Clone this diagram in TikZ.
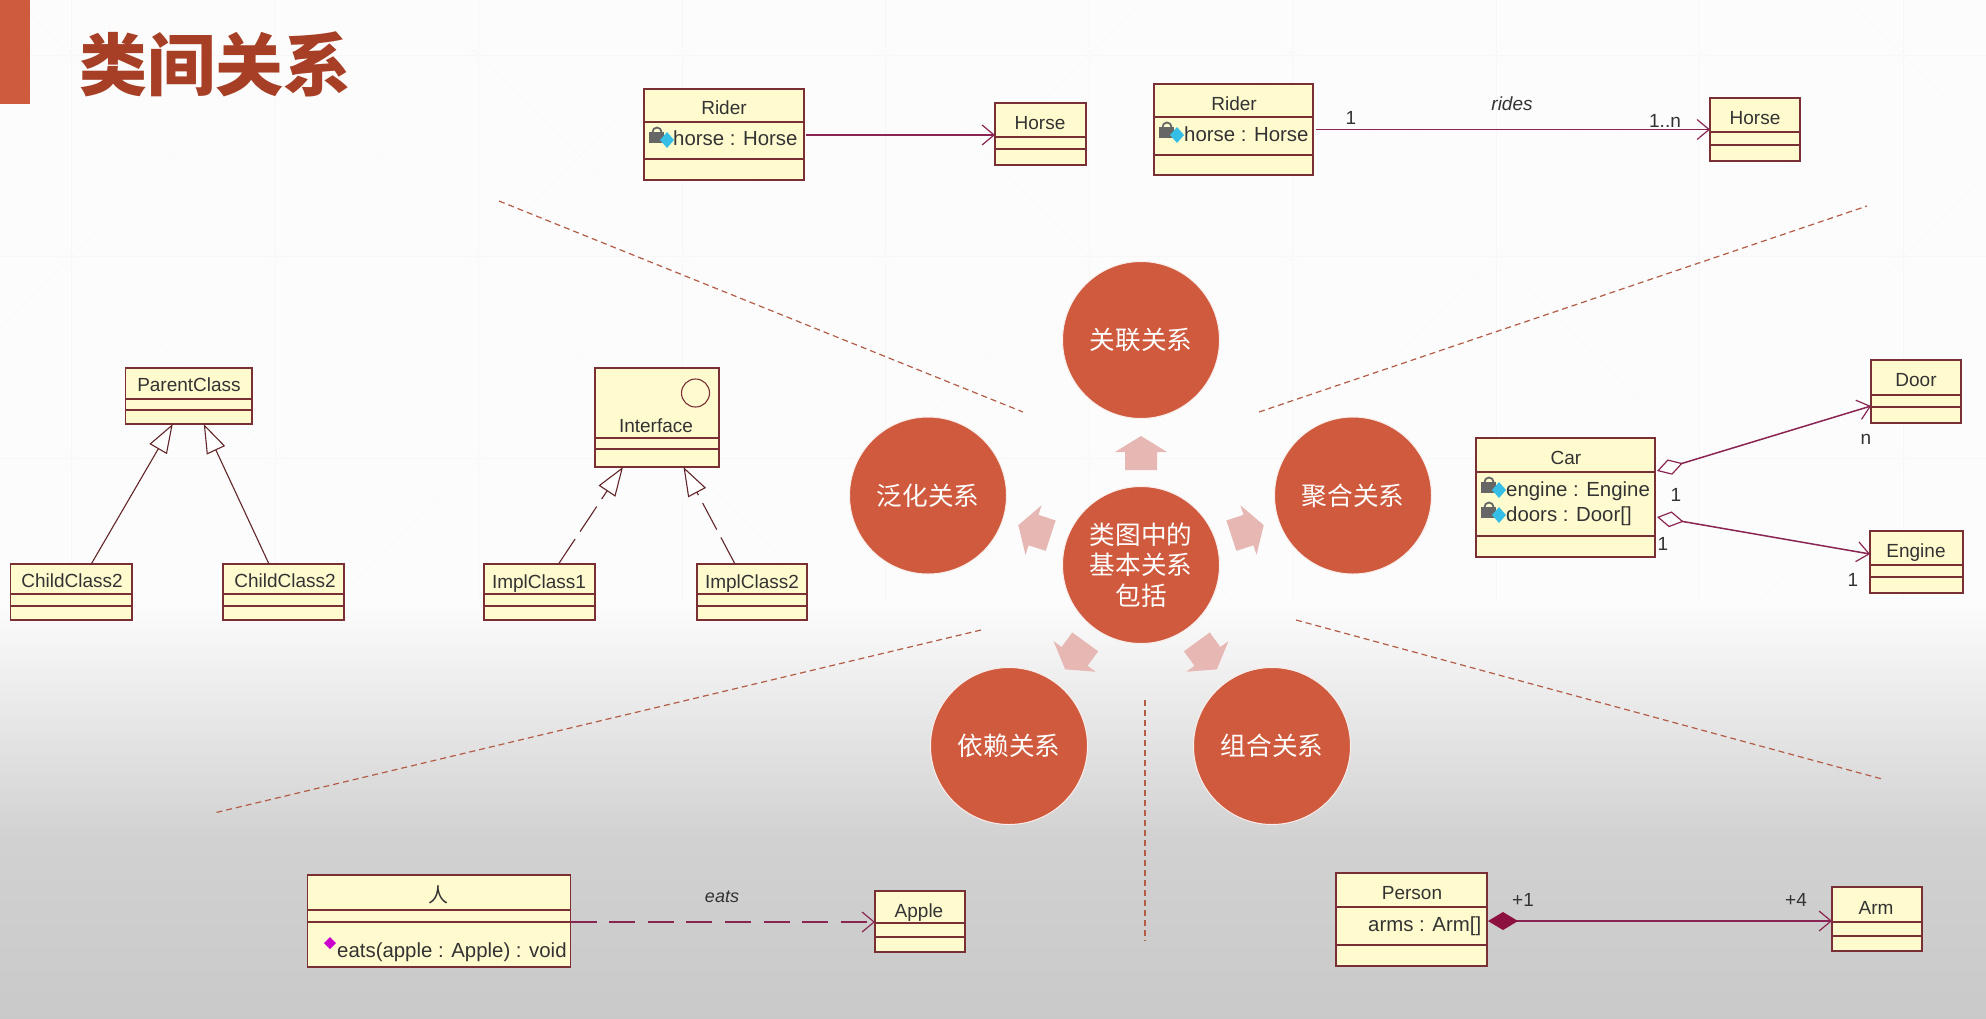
\documentclass[tikz,border=0pt]{standalone}
\usepackage{fontspec}
\setmainfont{Liberation Sans}
\newfontfamily\cjk{Noto Sans CJK SC}
\usetikzlibrary{arrows.meta}

\definecolor{barred}{HTML}{CF5B3E}
\definecolor{titlered}{HTML}{A63F25}
\definecolor{circlered}{HTML}{CF5A3D}
\definecolor{pinkarrow}{HTML}{E6B7B3}
\definecolor{boxfill}{HTML}{FFFBCF}
\definecolor{boxline}{HTML}{7A2F35}
\definecolor{assocline}{HTML}{8A2553}
\definecolor{compfill}{HTML}{8C1040}
\definecolor{iconblue}{HTML}{35BFE6}
\definecolor{umltext}{HTML}{333333}

\tikzset{
  umlbox/.style={draw=boxline,fill=boxfill,line width=1.3pt,inner sep=0pt,outer sep=0pt},
  umlline/.style={draw=boxline,line width=1.3pt},
  umlname/.style={font=\fontsize{19}{19}\selectfont,text=umltext,text height=14pt,text depth=0pt,inner sep=0pt},
  umlattr/.style={font=\fontsize{20.4}{20}\selectfont,text=umltext,text height=15pt,text depth=0pt,inner sep=0pt,anchor=west},
  umlnote/.style={font=\fontsize{19}{19}\selectfont,text=umltext,text height=14pt,text depth=0pt,inner sep=0pt},
  assoc/.style={draw=assocline,line width=1.5pt},
  openhead/.style={-{Straight Barb[length=12pt,width=20pt,line width=1.2pt]}},
  genline/.style={draw=boxline!80!black,line width=1.1pt,-{Triangle[open,length=29pt,width=20pt,fill=white]}},
  sepline/.style={draw=titlered!85!white,line width=1.2pt,dash pattern=on 6pt off 4pt},
  bigcircle/.style={circle,fill=circlered,draw=white!90!circlered,line width=1pt,minimum size=157pt,inner sep=0pt,text=white,align=center,
    font=\cjk\fontsize{25.6}{30.5}\selectfont},
}

% クラスの箱: 名前, 左, 上, 右, 下, 区切り1, 区切り2
\newcommand{\umlclass}[7]{
  \node[umlbox,minimum width={(#4-#2)*1pt},minimum height={(#5-#3)*1pt}] (#1) at ({(#2+#4)/2},{(#3+#5)/2}) {};
  \draw[umlline] (#2,#6) -- (#4,#6) (#2,#7) -- (#4,#7);
}
% 属性の印: 鍵と菱形
\newcommand{\attricon}[2]{
  \draw[black!60,line width=1.8pt] (#1-4.5,#2-4) arc (180:360:4.5);
  \fill[black!60] (#1-8,#2-4) rectangle (#1+7,#2+7);
  \fill[iconblue] (#1+10,#2-4) -- (#1+17,#2+4) -- (#1+10,#2+12) -- (#1+3,#2+4) -- cycle;
}

\begin{document}
\begin{tikzpicture}[x=1pt,y=-1pt]
  \useasboundingbox (0,0) rectangle (1986,1018);

  % 背景
  \fill[white!99!black] (0,0) rectangle (1986,600);
  \shade[top color=white!99!black,bottom color=black!18] (0,600) rectangle (1986,840);
  \shade[top color=black!18,bottom color=black!21] (0,840) rectangle (1986,1018);
  \begin{scope}
    \clip (0,0) rectangle (1986,600);
    \foreach \x in {71.5,275,...,1990} {
      \draw[black!3,line width=0.8pt] (\x,0) -- (\x,600);
    }
    \foreach \y in {55,256.7,458.4} {
      \draw[black!3,line width=0.8pt] (0,\y) -- (1986,\y);
    }
    \foreach \x in {-132,71.5,275,...,1990} {
      \foreach \y in {-146.7,55,256.7,458.4} {
        \draw[black!1.5,line width=0.8pt] (\x,\y) -- ++(203.5,201.7) ++(-203.5,0) -- ++(203.5,-201.7);
      }
    }
  \end{scope}

  % 題目
  \fill[barred] (0,0) rectangle (30,104);
  \node[font=\cjk\bfseries\fontsize{68}{68}\selectfont,text=titlered,inner sep=0pt] (title) at (215,64) {类间关系};

  % 区切りの点線
  \draw[sepline] (499,201) -- (1023,412);
  \draw[sepline] (1259,412) -- (1867,206);
  \draw[sepline] (981,630) -- (214,813);
  \draw[sepline] (1296,620) -- (1882,779);
  \draw[sepline] (1145,700) -- (1145,941);

  % 中央の円
  \node[bigcircle] (hub) at (1141,565) {类图中的\\基本关系\\包括};
  \node[bigcircle] (assocC) at (1141,340) {关联关系};
  \node[bigcircle] (aggrC) at (1353,495.5) {聚合关系};
  \node[bigcircle] (compC) at (1272,746) {组合关系};
  \node[bigcircle] (depC) at (1009,746) {依赖关系};
  \node[bigcircle] (genC) at (928,495.5) {泛化关系};

  % 円の間の矢印
  \begin{scope}
    \clip (0,0) rectangle (1986,671);
    \foreach \a in {0,72,144,216,288} {
      \fill[pinkarrow,shift={(hub)},rotate=\a] (-16,-95) -- (-16,-113) -- (-26,-113) -- (0,-129)
        -- (26,-113) -- (16,-113) -- (16,-95) -- cycle;
    }
  \end{scope}

  % 関連
  \umlclass{riderA}{644}{89}{804}{180}{122}{159}
  \umlclass{horseA}{995}{103}{1086}{165}{137}{149}
  \node[umlname] (riderAname) at (724,107) {Rider};
  \attricon{657}{136}
  \node[umlattr] (riderAattr) at (673,138) {horse : Horse};
  \node[umlname] (horseAname) at (1040,122) {Horse};
  \draw[assoc,openhead] ([xshift=2pt,yshift=-0.5pt]riderA.east) -- ([yshift=-1pt]horseA.west);

  \umlclass{riderB}{1154}{84}{1313}{175}{117}{155}
  \umlclass{horseB}{1710}{98}{1800}{161}{132}{145}
  \node[umlname] (riderBname) at (1234,103) {Rider};
  \attricon{1167}{131}
  \node[umlattr] (riderBattr) at (1184,134) {horse : Horse};
  \node[umlname] (horseBname) at (1755,117) {Horse};
  \draw[assoc,openhead] ([xshift=3pt]riderB.east) -- (horseB.west);
  \node[umlnote] (riderBone) at (1351,117) {1};
  \node[umlnote,font=\itshape\fontsize{19}{19}\selectfont] (ridesLabel) at (1512,103) {rides};
  \node[umlnote] (horseBmany) at (1665,120) {1..n};

  % 集約
  \umlclass{car}{1476}{438}{1655}{557}{472}{536}
  \umlclass{door}{1871}{360}{1961}{423}{395}{407}
  \umlclass{engine}{1870}{531}{1963}{593}{565}{577}
  \node[umlname] (carName) at (1566,457) {Car};
  \attricon{1489}{486}
  \attricon{1489}{511}
  \node[umlattr] (carEngine) at (1506,489) {engine : Engine};
  \node[umlattr] (carDoors) at (1506,514) {doors : Door[]};
  \node[umlname] (doorName) at (1916,379) {Door};
  \node[umlname] (engineName) at (1916,550) {Engine};
  \coordinate (carTop) at (1657,471);
  \coordinate (carBottom) at (1657,517);
  \draw[assoc,{Diamond[open,length=27pt,width=16pt,line width=1.2pt]}-{Straight Barb[length=12pt,width=20pt,line width=1.2pt]}]
    (carTop) -- ([yshift=-14.5pt]door.west);
  \draw[assoc,{Diamond[open,length=27pt,width=16pt,line width=1.2pt]}-{Straight Barb[length=12pt,width=20pt,line width=1.2pt]}]
    (carBottom) -- ([yshift=8pt]engine.west);
  \node[umlnote] (doorMany) at (1866,437) {n};
  \node[umlnote] (carOneA) at (1676,494) {1};
  \node[umlnote] (carOneB) at (1663,543) {1};
  \node[umlnote] (engineOne) at (1853,579) {1};

  % 汎化
  \umlclass{parent}{125.5}{368}{252}{424}{399}{410}
  \umlclass{childA}{10.5}{564}{132}{620}{594}{606}
  \umlclass{childB}{223}{564}{344}{620}{594}{606}
  \node[umlname] (parentName) at (189,384) {ParentClass};
  \node[umlname] (childAname) at (72,580) {ChildClass2};
  \node[umlname] (childBname) at (285,580) {ChildClass2};
  \draw[genline] ([xshift=20pt]childA.north) -- ([xshift=-16pt]parent.south);
  \draw[genline] ([xshift=-14.5pt]childB.north) -- ([xshift=15pt]parent.south);

  % 実現
  \umlclass{iface}{595}{368}{719}{467}{438}{449}
  \umlclass{implA}{484}{564}{595}{620}{594}{606}
  \umlclass{implB}{697}{564}{807}{620}{594}{606}
  \draw[boxline,line width=1.1pt] (695.5,393) circle[radius=14];
  \node[umlname] (ifaceName) at (656,425) {Interface};
  \node[umlname] (implAname) at (539,581) {ImplClass1};
  \node[umlname] (implBname) at (752,581) {ImplClass2};
  \draw[genline,dash pattern=on 30pt off 9pt] ([xshift=19pt]implA.north) -- ([xshift=-34pt]iface.south);
  \draw[genline,dash pattern=on 30pt off 9pt] ([xshift=-17pt]implB.north) -- ([xshift=26.5pt]iface.south);

  % 依存
  \umlclass{man}{307.5}{875}{570.5}{967}{910}{922}
  \umlclass{apple}{875}{891}{965}{952}{923}{937}
  \node[umlname,font=\cjk\fontsize{20}{20}\selectfont] (manName) at (438,895) {人};
  \fill[violet!40!magenta] (330,937) -- (336,943) -- (330,949) -- (324,943) -- cycle;
  \node[umlattr] (manEats) at (337,950) {eats(apple : Apple) : void};
  \node[umlname] (appleName) at (919,910) {Apple};
  \draw[assoc,openhead,dash pattern=on 26pt off 12.6pt] ([yshift=-1pt]man.east) -- ([yshift=-0.5pt]apple.west);
  \node[umlnote,font=\itshape\fontsize{18}{18}\selectfont] (eatsLabel) at (722,895) {eats};

  % 合成
  \umlclass{person}{1336}{873}{1487}{966}{907}{945}
  \umlclass{arm}{1832}{887}{1922}{951}{922}{936}
  \node[umlname] (personName) at (1412,892) {Person};
  \node[umlattr] (personArms) at (1368,924) {arms : Arm[]};
  \node[umlname] (armName) at (1876,907) {Arm};
  \draw[assoc,line width=1.7pt,{Diamond[length=30pt,width=18pt,color=compfill]}-{Straight Barb[length=12pt,width=20pt,line width=1.2pt]}]
    ([xshift=1pt,yshift=-1.5pt]person.east) -- ([yshift=-2pt]arm.west);
  \node[umlnote] (personOne) at (1523,899) {+1};
  \node[umlnote] (armFour) at (1796,899) {+4};
\end{tikzpicture}
\end{document}
